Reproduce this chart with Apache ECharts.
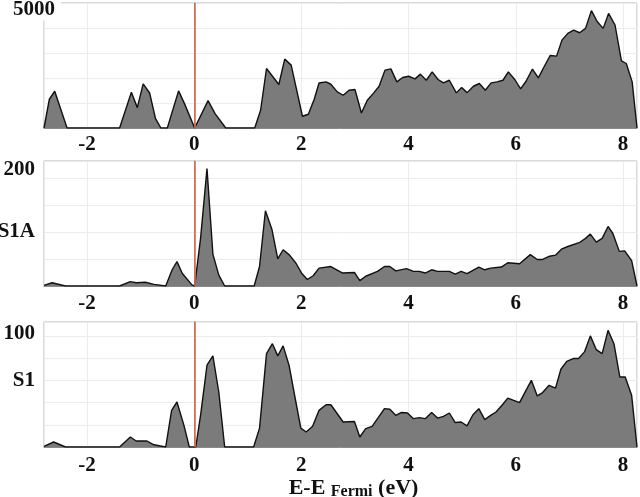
<!DOCTYPE html>
<html>
<head>
<meta charset="utf-8">
<script src="https://cdn.jsdelivr.net/npm/echarts@6/dist/echarts.min.js"></script>
<style>
html,body{margin:0;padding:0;background:#fff;}
#c{width:640px;height:497px;}
</style>
</head>
<body>
<div id="c"></div>
<script>
// Panel 1 (total DOS)
const totE = [-2.8,-2.70,-2.60,-2.37,-1.39,-1.17,-1.06,-0.95,-0.83,-0.72,-0.62,-0.50,-0.29,-0.18,0.01,0.26,0.39,0.59,1.13,1.24,1.35,1.58,1.69,1.81,2.02,2.13,2.24,2.33,2.46,2.55,2.67,2.78,2.89,3.00,3.12,3.23,3.35,3.45,3.56,3.67,3.78,3.89,4.00,4.12,4.22,4.33,4.44,4.55,4.65,4.76,4.89,4.99,5.09,5.21,5.32,5.43,5.54,5.65,5.76,5.86,5.98,6.09,6.19,6.31,6.42,6.52,6.64,6.76,6.86,6.97,7.08,7.19,7.30,7.41,7.52,7.63,7.73,7.85,7.97,8.06,8.17,8.26];
const totV = [0,1150,1470,0,0,1430,815,1765,1400,375,0,0,1485,975,0,1095,575,0,0,710,2380,1740,2755,2515,470,550,1150,1800,1845,1750,1445,1310,1510,1540,600,1110,1405,1670,2315,2365,1845,2020,2070,1965,2155,1910,2245,1940,1805,1910,1405,1620,1415,1670,1780,1510,1805,1845,1910,2245,1940,1565,1870,2355,2005,2420,2900,2875,3515,3785,3915,3810,3985,4695,4250,3985,4585,4120,2685,2580,1845,0];

// Panel 2 (S1A)
const s1aE = [-2.8,-2.65,-2.40,-1.39,-1.19,-1.08,-0.91,-0.75,-0.53,-0.41,-0.32,-0.22,-0.04,0.01,0.12,0.24,0.35,0.46,0.57,1.12,1.22,1.33,1.45,1.56,1.66,1.78,1.90,2.01,2.11,2.22,2.33,2.55,2.77,2.99,3.09,3.20,3.42,3.55,3.65,3.76,3.96,4.09,4.20,4.31,4.43,4.54,4.76,4.87,4.98,5.09,5.31,5.42,5.53,5.73,5.85,6.07,6.27,6.40,6.50,6.63,6.74,6.85,6.97,7.18,7.30,7.39,7.50,7.61,7.72,7.81,7.93,8.03,8.16,8.26];
const s1aV = [1,6,0,0,8,6,7,3,0,30,45,23,2,0,88,217,59,20,0,0,36,139,105,50,67,57,42,23,12,19,33,36,24,25,10,18,27,36,36,28,32,27,27,24,30,27,27,22,27,23,35,30,33,35,43,41,58,49,49,55,57,68,73,80,88,96,81,88,110,97,64,65,47,0];

// Panel 3 (S1)
const s1E = [-2.8,-2.62,-2.40,-1.39,-1.19,-1.08,-0.88,-0.75,-0.53,-0.42,-0.32,-0.19,-0.09,0.03,0.12,0.24,0.35,0.46,0.57,1.11,1.22,1.35,1.46,1.56,1.66,1.77,1.88,1.99,2.09,2.21,2.33,2.46,2.55,2.78,2.99,3.09,3.20,3.32,3.55,3.65,3.76,3.86,3.98,4.09,4.20,4.31,4.43,4.54,4.65,4.76,4.87,4.98,5.09,5.20,5.31,5.42,5.53,5.63,5.75,5.85,5.96,6.07,6.18,6.29,6.40,6.50,6.62,6.74,6.84,6.95,7.07,7.17,7.28,7.39,7.50,7.61,7.72,7.83,7.94,8.04,8.16,8.26];
const s1V = [0.5,4.5,0,0,9,5.4,5.4,2,0,33,40.5,19.5,0,0,28.5,73.6,82,49.5,0,0,17,84,93,82,91,73.6,45,17,13.5,18.6,33,38,38,22.5,23,9,16.5,18.6,34.5,34,28.5,31,30.6,25.5,26.4,25.5,31,26,27.6,30.6,22,22.5,19,29,34.5,24.6,28.5,31.5,38,44,42,40,50,60,46,49,55.5,53,70,77,79.6,79.6,85.6,100,87.7,84,105,93,63,63,46.5,0];

const xMin = -2.8, xMax = 8.26;
const yMax = [5000, 231, 112.5];
const yInterval = [1000, 50, 20];
// value -> [text, style]
const yLabels = [{5000:['5000','top']}, {200:['200','up'], 100:['S1A','n']}, {100:['100','up2'], 60:['S1','n']}];
const xTitle = 'E-E';

const chart = echarts.init(document.getElementById('c'), null, {renderer:'canvas'});
const FONT = 'Liberation Serif';
const tops = [3, 161, 322];
const grids = tops.map(t => ({left:44, right:3, top:t, height:125, show:true, containLabel:false, outerBoundsMode:'none', borderColor:'#b5b5b5', borderWidth:1, backgroundColor:'transparent'}));

const xAxes = [0,1,2].map(i => ({
  type:'value', gridIndex:i, min:xMin, max:xMax, splitNumber:5,
  axisLine:{show:true, onZero:false, lineStyle:{color:'#8a8a8a', width:1}},
  axisTick:{show:false},
  splitLine:{show:true, lineStyle:{color:'#ececec', width:1}},
  axisLabel:{show:true, showMinLabel:false, showMaxLabel:false, margin:[6,7,8][i],
    color:'#111', fontFamily:FONT, fontWeight:'bold', fontSize:21,
    formatter: v => (Math.abs(v - Math.round(v)) < 1e-6 && Math.round(v) % 2 === 0) ? String(Math.round(v)) : ''},
  name: i === 2 ? '{a|' + xTitle + ' }{b|Fermi}{a| (eV)}' : '',
  nameLocation:'middle', nameGap:29,
  nameTextStyle:{padding:[0,0,0,26], rich:{
    a:{fontFamily:FONT, fontWeight:'bold', fontSize:22, color:'#111', verticalAlign:'bottom'},
    b:{fontFamily:FONT, fontWeight:'bold', fontSize:16, color:'#111', verticalAlign:'bottom', padding:[0,0,-1,0]}
  }}
}));

const base = {fontFamily:FONT, fontWeight:'bold', fontSize:21, color:'#111'};
const yAxes = [0,1,2].map(i => ({
  type:'value', gridIndex:i, min:0, max:yMax[i], interval:yInterval[i],
  axisLine:{show:true, lineStyle:{color:'#8a8a8a', width:1}},
  axisTick:{show:false},
  splitLine:{show:true, lineStyle:{color:'#ececec', width:1}},
  axisLabel:{show:true, showMaxLabel:i===0, margin: i===0 ? -17 : 9,
    formatter: v => {
      const t = yLabels[i][Math.round(v*10)/10];
      return t ? '{' + t[1] + '|' + t[0] + '}' : '';
    },
    rich:{
      top:Object.assign({}, base, {padding:[14,6,0,0], backgroundColor:'#fff'}),
      up:Object.assign({}, base, {padding:[0,0,16,0]}),
      up2:Object.assign({}, base, {padding:[0,0,5,0]}),
      n:Object.assign({}, base, {padding:[0,0,0,0]})
    }
  }
}));

function mk(es, vs){ return es.map((e,k)=>[e, vs[k]]); }
const datas = [mk(totE,totV), mk(s1aE,s1aV), mk(s1E,s1V)];
const series = datas.map((d,i) => ({
  type:'line', xAxisIndex:i, yAxisIndex:i, data:d, symbol:'none', smooth:false,
  lineStyle:{color:'#111', width:1.4},
  areaStyle:{color:'#7b7b7b', opacity:1},
  z:2,
  markLine:{silent:true, symbol:'none', label:{show:false},
    lineStyle:{color:'#de6a4e', width:1.6, type:'solid'},
    data:[{xAxis:0.02}]}
}));

chart.setOption({
  animation:false,
  backgroundColor:'#fff',
  grid:grids, xAxis:xAxes, yAxis:yAxes, series:series
});
</script>
</body>
</html>
